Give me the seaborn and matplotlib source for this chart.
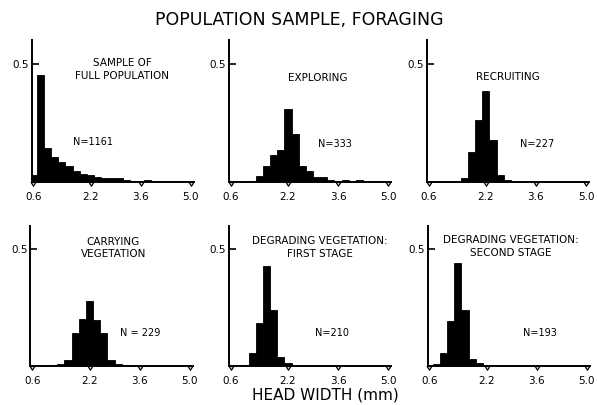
import numpy as np
import pandas as pd
import matplotlib
matplotlib.use("Agg")
import matplotlib.pyplot as plt
from matplotlib.path import Path
import seaborn as sns

sns.set_style("ticks")
plt.rcParams["font.family"] = ["DejaVu Sans"]
plt.rcParams["text.color"] = "black"
plt.rcParams["xtick.color"] = "black"
plt.rcParams["ytick.color"] = "black"
plt.rcParams["axes.labelcolor"] = "black"

# ---------------- data ----------------
title = "POPULATION SAMPLE, FORAGING"
xlabel = "HEAD WIDTH (mm)"
xtick_values = [0.6, 2.2, 3.6, 5.0]
xtick_labels = ["0.6", "2.2", "3.6", "5.0"]
ytick_values = [0.5]
ytick_labels = ["0.5"]
bin_width = 0.2

panel_titles = [
    "SAMPLE OF\nFULL POPULATION",
    "EXPLORING",
    "RECRUITING",
    "CARRYING\nVEGETATION",
    "DEGRADING VEGETATION:\nFIRST STAGE",
    "DEGRADING VEGETATION:\nSECOND STAGE",
]
panel_n_labels = ["N=1161", "N=333", "N=227", "N = 229", "N=210", "N=193"]

full_width = [0.6, 0.8, 1.0, 1.2, 1.4, 1.6, 1.8, 2.0, 2.2, 2.4, 2.6, 2.8,
              3.0, 3.2, 3.4, 3.6, 3.8, 4.0, 4.2, 4.4, 4.6, 4.8]
full_freq = [0.028, 0.45, 0.145, 0.106, 0.085, 0.066, 0.045, 0.035, 0.028,
             0.022, 0.018, 0.015, 0.015, 0.008, 0.006, 0.006, 0.010, 0.005,
             0.003, 0.003, 0.003, 0.006]

explore_width = [1.2, 1.4, 1.6, 1.8, 2.0, 2.2, 2.4, 2.6, 2.8, 3.0, 3.2, 3.4,
                 3.6, 3.8, 4.0, 4.2, 4.4, 4.6, 4.8]
explore_freq = [0.005, 0.024, 0.066, 0.113, 0.137, 0.31, 0.204, 0.066, 0.045,
                0.021, 0.020, 0.010, 0.006, 0.008, 0.003, 0.008, 0.002, 0.003,
                0.003]

recruit_width = [1.6, 1.8, 2.0, 2.2, 2.4, 2.6, 2.8]
recruit_freq = [0.018, 0.127, 0.26, 0.385, 0.179, 0.031, 0.010]

carry_width = [1.2, 1.4, 1.6, 1.8, 2.0, 2.2, 2.4, 2.6, 2.8, 3.0, 3.2]
carry_freq = [0.004, 0.008, 0.025, 0.139, 0.20, 0.278, 0.198, 0.139, 0.025,
              0.007, 0.003]

degrade1_width = [1.0, 1.2, 1.4, 1.6, 1.8, 2.0, 2.2, 2.4]
degrade1_freq = [0.004, 0.057, 0.182, 0.426, 0.241, 0.040, 0.011, 0.006]

degrade2_width = [0.8, 1.0, 1.2, 1.4, 1.6, 1.8, 2.0, 2.2, 2.4]
degrade2_freq = [0.007, 0.057, 0.192, 0.44, 0.241, 0.031, 0.011, 0.006, 0.005]

panel_data = [
    (full_width, full_freq),
    (explore_width, explore_freq),
    (recruit_width, recruit_freq),
    (carry_width, carry_freq),
    (degrade1_width, degrade1_freq),
    (degrade2_width, degrade2_freq),
]

# ---------------- layout ----------------
W, H = 597, 405
fig = plt.figure(figsize=(W / 100, H / 100), dpi=100)
fig.patch.set_facecolor("white")

ax_w = 162
ax_lefts = [31.5, 229.0, 426.8, 30.5, 229.0, 427.5]
ax_bottoms = [182, 182, 182, 366, 366, 366]  # baseline pixel (from top)
ax_heights = [142, 142, 142, 140.5, 140.5, 140.5]

# text placement (data coords)
title_pos = [(3.08, 0.475), (3.03, 0.44), (2.83, 0.445),
             (2.87, 0.504), (3.09, 0.506), (2.87, 0.51)]
n_pos = [(2.27, 0.168), (3.5, 0.16), (3.64, 0.16),
         (3.62, 0.141), (3.42, 0.141), (3.69, 0.141)]

tri = Path([(-1.0, 0.0), (1.0, 0.0), (0.0, -1.6), (-1.0, 0.0)],
           [Path.MOVETO, Path.LINETO, Path.LINETO, Path.CLOSEPOLY])

for i, (xs, fs) in enumerate(panel_data):
    left = ax_lefts[i] / W
    bottom = (H - ax_bottoms[i]) / H
    ax = fig.add_axes([left, bottom, ax_w / W, ax_heights[i] / H])
    df = pd.DataFrame({"width": xs, "freq": fs})
    edges = [float(e) for e in np.round(
        np.arange(min(xs) - bin_width / 2, max(xs) + bin_width / 2 + 1e-6,
                  bin_width), 2)]
    sns.histplot(data=df, x="width", weights="freq", bins=edges,
                 color="black", alpha=1.0, edgecolor="black", linewidth=0.6,
                 ax=ax)
    ax.set_xlim(0.55, 5.08)
    ax.set_ylim(0, 0.6)
    ax.set_xlabel("")
    ax.set_ylabel("")
    for s in ["top", "right"]:
        ax.spines[s].set_visible(False)
    for s in ["left", "bottom"]:
        ax.spines[s].set_linewidth(1.4)
        ax.spines[s].set_color("black")
    ax.set_xticks(xtick_values)
    ax.set_xticklabels(xtick_labels, fontsize=7.5)
    ax.set_yticks(ytick_values)
    ax.set_yticklabels(ytick_labels, fontsize=7.5)
    ax.tick_params(axis="x", length=0, pad=7)
    ax.tick_params(axis="y", direction="in", length=5, width=1.2, pad=2)
    ax.scatter(xtick_values, [0] * len(xtick_values), marker=tri, s=28,
               facecolor="white", edgecolor="black", linewidth=0.9,
               clip_on=False, zorder=6)
    tx, ty = title_pos[i]
    ax.text(tx, ty, panel_titles[i], ha="center", va="center", fontsize=7.5,
            linespacing=1.3)
    nx, ny = n_pos[i]
    ax.text(nx, ny, panel_n_labels[i], ha="center", va="center", fontsize=7)

fig.text(299 / W, 1 - 20 / H, title, ha="center", va="center", fontsize=12.5)
fig.text(325 / W, 1 - 395 / H, xlabel, ha="center", va="center", fontsize=11)

fig.savefig("out.png", dpi=100, facecolor="white")
